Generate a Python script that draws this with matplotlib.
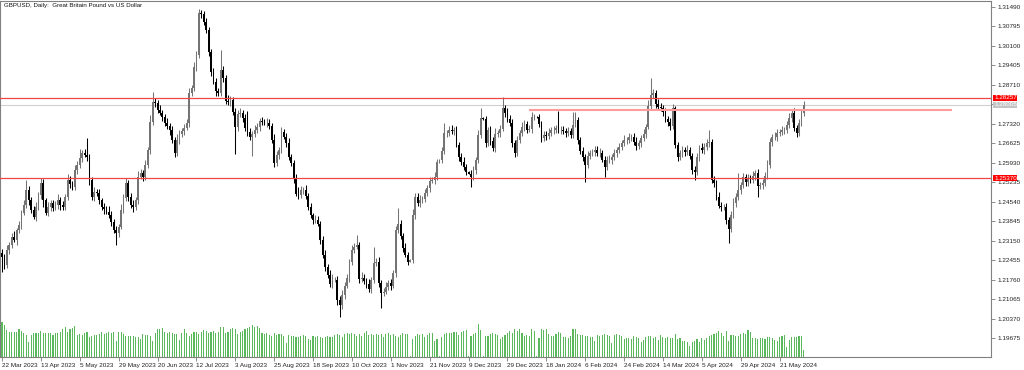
import numpy as np
import matplotlib
matplotlib.use('Agg')
import matplotlib.pyplot as plt
import matplotlib.transforms as mtransforms

plt.rc('font', family='Liberation Sans', size=4.6)

# ---- data: prices in 1/10000 of a dollar, volumes in thousand ticks ----
date_labels = ['22 Mar 2023', '13 Apr 2023', '5 May 2023', '29 May 2023', '20 Jun 2023',
               '12 Jul 2023', '3 Aug 2023', '25 Aug 2023', '18 Sep 2023', '10 Oct 2023',
               '1 Nov 2023', '21 Nov 2023', '9 Dec 2023', '29 Dec 2023', '18 Jan 2024',
               '6 Feb 2024', '24 Feb 2024', '14 Mar 2024', '5 Apr 2024', '29 Apr 2024',
               '21 May 2024']
bars_per_label = 16

first_open = 12270
closes = [
    12258, 12229, 12283, 12301, 12329, 12319, 12354, 12372, 12415, 12443,
    12497, 12461, 12426, 12401, 12436, 12479, 12521, 12461, 12415, 12436,
    12450, 12432, 12443, 12461, 12443, 12436, 12472, 12532, 12518, 12507,
    12568, 12586, 12611, 12628, 12621, 12614, 12532, 12472, 12490, 12486,
    12461, 12436, 12429, 12419, 12408, 12383, 12354, 12343, 12365, 12426,
    12468, 12521, 12472, 12443, 12436, 12461, 12543, 12557, 12543, 12586,
    12639, 12739, 12810, 12807, 12782, 12771, 12757, 12736, 12725, 12711,
    12675, 12628, 12675, 12697, 12707, 12718, 12736, 12843, 12860, 12935,
    12978, 13128, 13124, 13096, 13067, 12989, 12917, 12882, 12850, 12843,
    12924, 12896, 12814, 12810, 12818, 12775, 12721, 12768, 12771, 12753,
    12718, 12704, 12686, 12697, 12711, 12721, 12743, 12739, 12736, 12736,
    12725, 12675, 12593, 12621, 12639, 12704, 12686, 12664, 12614, 12593,
    12539, 12483, 12479, 12497, 12497, 12476, 12436, 12405, 12390, 12390,
    12376, 12319, 12265, 12222, 12194, 12162, 12176, 12176, 12105, 12084,
    12122, 12155, 12183, 12240, 12283, 12294, 12301, 12180, 12183, 12172,
    12162, 12144, 12176, 12236, 12240, 12165, 12129, 12133, 12151, 12165,
    12155, 12201, 12354, 12376, 12333, 12290, 12265, 12240, 12247, 12408,
    12472, 12450, 12461, 12465, 12486, 12504, 12529, 12532, 12543, 12596,
    12604, 12636, 12700, 12700, 12711, 12707, 12711, 12657, 12614, 12596,
    12579, 12561, 12554, 12543, 12568, 12604, 12693, 12753, 12748, 12664,
    12711, 12672, 12646, 12697, 12700, 12714, 12789, 12771, 12750, 12736,
    12664, 12628, 12675, 12700, 12721, 12732, 12711, 12714, 12757, 12757,
    12755, 12732, 12682, 12693, 12689, 12700, 12711, 12711, 12718, 12711,
    12711, 12707, 12700, 12707, 12693, 12729, 12746, 12675, 12636, 12614,
    12586, 12618, 12628, 12632, 12639, 12628, 12628, 12604, 12579, 12604,
    12604, 12614, 12628, 12639, 12650, 12664, 12675, 12675, 12686, 12686,
    12668, 12653, 12664, 12682, 12697, 12721, 12796, 12835, 12843, 12803,
    12793, 12789, 12775, 12750, 12739, 12725, 12789, 12657, 12614, 12628,
    12639, 12632, 12639, 12618, 12568, 12561, 12614, 12646, 12639, 12650,
    12664, 12668, 12532, 12521, 12472, 12440, 12436, 12436, 12390, 12358,
    12408, 12450, 12472, 12497, 12514, 12543, 12525, 12539, 12532, 12547,
    12557, 12511, 12514, 12521, 12547, 12586, 12668, 12686, 12686, 12700,
    12704, 12711, 12711, 12729, 12753, 12771, 12718, 12700, 12736, 12771,
    12800,
]
# wick lengths above / below the candle body, in pips
upper_wick = [
    14, 10, 18, 9, 12, 20, 8, 15, 11, 16,
    35, 12, 9, 14, 18, 10, 18, 13, 8, 16,
    12, 9, 15, 20, 11, 13, 10, 22, 14, 9,
    17, 12, 30, 10, 15, 60, 12, 9, 16, 11,
    13, 8, 14, 10, 19, 12, 9, 15, 11, 20,
    14, 18, 10, 12, 16, 9, 22, 13, 11, 17,
    12, 25, 36, 14, 10, 16, 12, 9, 18, 11,
    15, 10, 20, 13, 9, 14, 12, 18, 10, 16,
    13, 15, 12, 10, 14, 11, 9, 16, 12, 10,
    72, 14, 11, 20, 13, 9, 15, 12, 18, 10,
    14, 60, 12, 10, 16, 13, 9, 15, 11, 18,
    12, 10, 20, 14, 11, 16, 9, 13, 18, 12,
    10, 15, 22, 12, 9, 17, 11, 14, 10, 16,
    12, 9, 14, 18, 11, 15, 20, 10, 13, 12,
    16, 11, 14, 9, 18, 12, 35, 10, 22, 13,
    11, 15, 9, 55, 12, 16, 10, 14, 18, 11,
    13, 10, 15, 56, 12, 9, 16, 11, 2, 20,
    14, 12, 18, 10, 15, 11, 13, 9, 16, 12,
    2, 14, 36, 10, 12, 18, 11, 15, 9, 13,
    16, 10, 2, 12, 14, 11, 18, 36, 2, 13,
    10, 15, 12, 20, 11, 14, 39, 10, 16, 12,
    13, 9, 15, 11, 18, 12, 10, 14, 16, 11,
    2, 13, 10, 15, 12, 18, 11, 14, 9, 60,
    12, 15, 10, 13, 11, 46, 29, 12, 10, 14,
    11, 16, 12, 9, 15, 13, 18, 10, 14, 12,
    16, 11, 13, 10, 15, 12, 18, 9, 14, 11,
    13, 17, 10, 12, 15, 11, 20, 61, 14, 10,
    16, 12, 9, 14, 11, 13, 15, 5, 12, 10,
    14, 11, 16, 12, 9, 15, 13, 10, 18, 12,
    14, 43, 10, 13, 11, 16, 12, 9, 15, 11,
    13, 18, 12, 60, 10, 15, 11, 14, 12, 16,
    10, 13, 11, 15, 12, 18, 14, 9, 16, 12,
    11, 14, 10, 13, 16, 12, 18, 10, 14, 11,
    15,
]
lower_wick = [
    53, 14, 10, 16, 12, 9, 18, 11, 15, 10,
    13, 20, 12, 9, 15, 11, 14, 25, 10, 13,
    16, 12, 9, 14, 18, 10, 13, 11, 15, 12,
    10, 14, 12, 16, 9, 13, 18, 11, 14, 10,
    15, 12, 18, 10, 13, 16, 11, 42, 14, 9,
    13, 10, 16, 12, 18, 11, 14, 9, 15, 12,
    10, 14, 12, 16, 11, 9, 15, 13, 10, 18,
    12, 16, 10, 14, 11, 13, 9, 15, 12, 10,
    14, 11, 16, 12, 10, 15, 13, 9, 17, 12,
    10, 14, 12, 9, 16, 11, 96, 13, 10, 15,
    12, 16, 11, 70, 13, 10, 15, 12, 9, 14,
    11, 13, 14, 10, 16, 12, 9, 15, 11, 13,
    18, 10, 14, 12, 16, 11, 13, 9, 15, 12,
    10, 14, 12, 16, 11, 13, 15, 10, 18, 43,
    12, 16, 10, 14, 11, 13, 9, 15, 12, 10,
    14, 11, 16, 12, 10, 15, 53, 13, 9, 12,
    16, 10, 14, 12, 11, 15, 9, 13, 2, 12,
    14, 11, 16, 10, 13, 12, 15, 9, 14, 11,
    2, 13, 10, 15, 12, 11, 14, 9, 16, 12,
    13, 10, 2, 36, 11, 15, 12, 10, 2, 14,
    12, 16, 10, 13, 11, 14, 9, 15, 12, 10,
    14, 14, 11, 13, 10, 15, 12, 9, 16, 11,
    2, 13, 15, 10, 14, 12, 11, 16, 13, 10,
    15, 12, 14, 10, 13, 11, 9, 14, 12, 16,
    61, 11, 13, 10, 15, 12, 14, 9, 36, 12,
    10, 14, 12, 15, 11, 13, 10, 16, 12, 14,
    11, 13, 10, 15, 12, 14, 9, 13, 11, 16,
    12, 10, 14, 11, 13, 15, 10, 12, 14, 11,
    13, 15, 10, 12, 16, 29, 11, 14, 10, 13,
    12, 14, 11, 15, 13, 10, 16, 12, 14, 50,
    13, 11, 15, 12, 14, 10, 16, 13, 11, 12,
    15, 40, 12, 14, 10, 13, 11, 15, 12, 14,
    10, 13, 15, 11, 12, 14, 10, 16, 12, 13,
    11,
]
volumes = [
    139, 128, 108, 99, 101, 99, 101, 111, 105, 97,
    88, 61, 88, 95, 95, 95, 105, 95, 95, 95,
    97, 88, 95, 97, 101, 111, 119, 101, 112, 115,
    124, 88, 92, 88, 97, 101, 81, 84, 88, 88,
    92, 101, 92, 97, 101, 97, 101, 64, 101, 101,
    92, 84, 84, 84, 84, 81, 81, 72, 92, 88,
    88, 84, 64, 95, 111, 111, 115, 101, 97, 101,
    95, 92, 92, 68, 97, 111, 97, 84, 92, 101,
    101, 92, 101, 108, 105, 97, 101, 105, 95, 101,
    119, 121, 97, 101, 112, 115, 112, 92, 101, 105,
    111, 115, 119, 128, 121, 124, 115, 97, 92, 95,
    88, 84, 95, 88, 92, 92, 84, 55, 88, 84,
    84, 81, 79, 84, 88, 84, 71, 68, 84, 81,
    84, 79, 75, 81, 84, 81, 81, 88, 92, 88,
    81, 92, 95, 92, 95, 92, 84, 92, 84, 97,
    105, 88, 92, 88, 92, 88, 92, 79, 92, 95,
    88, 92, 84, 81, 88, 97, 92, 92, 4,
    71, 84, 92, 88, 92, 81, 88, 95, 95, 65,
    71, 4, 81, 92, 95, 97, 97, 101, 101, 88,
    101, 105, 108, 4, 84, 92, 97, 132, 108, 4,
    84, 84, 92, 95, 92, 88, 71, 79, 88, 95,
    105, 97, 111, 105, 111, 95, 84, 88, 84, 111,
    105, 4, 75, 111, 108, 111, 92, 84, 84, 92,
    101, 97, 81, 81, 75, 84, 111, 111, 92, 88,
    88, 84, 84, 81, 81, 65, 88, 84, 88, 92,
    88, 84, 57, 88, 92, 88, 84, 71, 75, 75,
    71, 84, 79, 75, 61, 68, 81, 84, 84, 75,
    79, 68, 88, 81, 75, 81, 75, 75, 92, 71,
    75, 65, 65, 61, 44, 61, 65, 71, 61, 75,
    68, 75, 84, 88, 92, 97, 105, 97, 84, 105,
    65, 88, 88, 84, 84, 92, 97, 92, 108, 101,
    75, 75, 71, 75, 75, 71, 79, 79, 75, 68,
    65, 79, 84, 88, 41, 68, 81, 81, 81, 84,
    84, 28,
]

price_ticks = [1.19675, 1.20370, 1.21065, 1.21760, 1.22455, 1.23150, 1.23845, 1.24540,
               1.25235, 1.25930, 1.26625, 1.27320, 1.28015, 1.28710, 1.29405, 1.30100,
               1.30795, 1.31490]
level_hi = 1.28257
level_lo = 1.25370
bid = 1.28005
trend_level = 1.2780
trend_start_bar, trend_end_bar = 217, 391

# ---- build OHLC ----
c = np.array(closes) / 1e4
o = np.concatenate([[first_open / 1e4], c[:-1]])
h = np.maximum(o, c) + np.array(upper_wick) / 1e4
l = np.minimum(o, c) - np.array(lower_wick) / 1e4
idx = np.arange(len(c))
bull = c >= o

fig = plt.figure(figsize=(10.24, 3.70), dpi=100)
ax = fig.add_axes([0.0, 13 / 370, 991 / 1024, 356 / 370])
ax.set_xlim(-0.82, 407)
ax.set_ylim(1.19000, 1.31704)

# volumes on their own scale, sitting at the bottom of the chart
axv = ax.twinx()
axv.bar(idx, volumes, width=0.45, color='#5cb85c', linewidth=0)
axv.set_ylim(0, 1424)
axv.set_yticks([])
for s in axv.spines.values():
    s.set_visible(False)

# candles: bull grey, bear black
cols = np.where(bull, '#747474', '#000000')
ax.vlines(idx, l, h, colors=cols, lw=0.75, zorder=3)
body = np.maximum(np.abs(c - o), 0.00004)
ax.bar(idx, body, bottom=np.minimum(o, c), width=0.72, color=cols, linewidth=0, zorder=4)

# horizontal levels
ax.axhline(level_hi, color='#f24545', lw=0.9, zorder=5)
ax.axhline(level_lo, color='#f24545', lw=0.9, zorder=5)
ax.axhline(bid, color='#d0d0d0', lw=0.8, zorder=2)
ax.hlines(trend_level, trend_start_bar, trend_end_bar, color='#ff9d9d', lw=1.5, zorder=5)

# axes look; the scale value hidden under the bid label is left blank
ax.yaxis.tick_right()
ax.set_yticks(price_ticks)
ax.set_yticklabels(['' if abs(p - bid) < 0.0003 else '%.5f' % p for p in price_ticks])
ax.tick_params(axis='y', length=3, width=0.6, pad=1.5, colors='#7a7a7a', labelcolor='#222222')
ax.set_xticks(idx[::bars_per_label][:len(date_labels)])
ax.set_xticklabels(date_labels, ha='left')
ax.tick_params(axis='x', length=3, width=0.6, pad=1.2, colors='#7a7a7a', labelcolor='#222222')
for s in ax.spines.values():
    s.set_color('#808080')
    s.set_linewidth(0.8)

# price labels on the scale (bid first so the red level label sits on top)
tr = mtransforms.blended_transform_factory(ax.transAxes, ax.transData)
for val, fc, z in [(bid, '#c4c4c4', 10), (level_hi, '#ff0000', 11), (level_lo, '#ff0000', 11)]:
    ax.text(1.003, val, '%.5f' % val, transform=tr, ha='left', va='center', color='white',
            fontsize=4.5, clip_on=False, zorder=z,
            bbox=dict(boxstyle='square,pad=0.08', fc=fc, ec='none'))

fig.text(4 / 1024, 1 - 6 / 370, 'GBPUSD, Daily:  Great Britain Pound vs US Dollar',
         ha='left', va='center', fontsize=4.4, color='#111111')

fig.savefig('out.png', dpi=100)
